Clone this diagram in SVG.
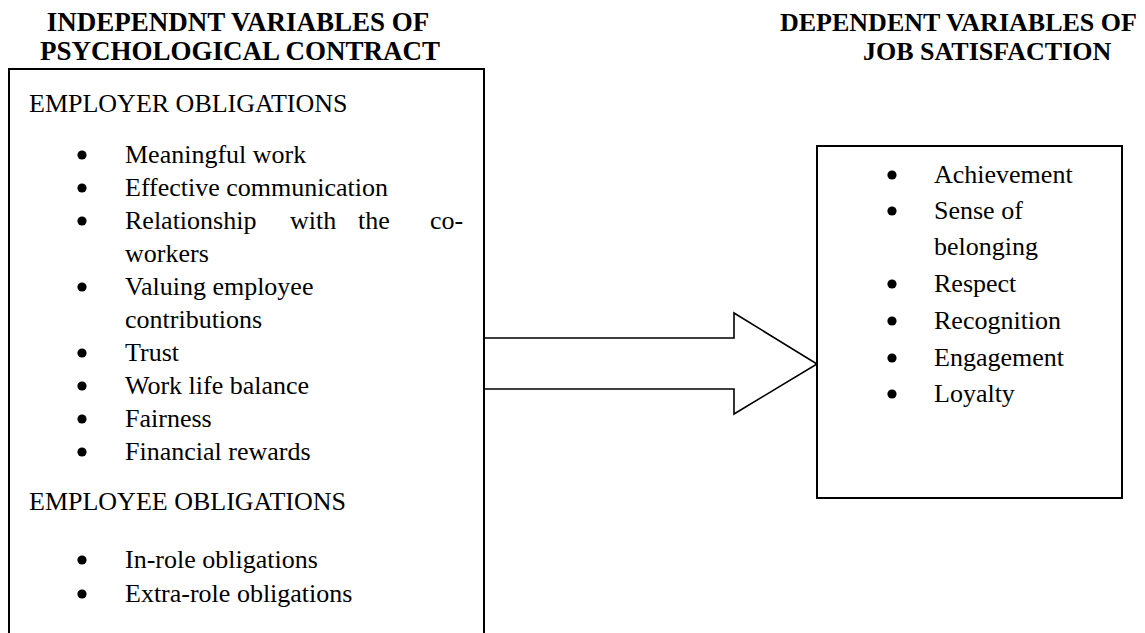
<svg xmlns="http://www.w3.org/2000/svg" width="1145" height="633" viewBox="0 0 1145 633">
<style>
  text { font-family: "Liberation Serif", "Times New Roman", serif; fill: #000; }
  .title { font-size: 27px; font-weight: bold; }
  .title-r { font-size: 26px; font-weight: bold; }
  .body { font-size: 26px; }
  .bul { fill: #000; }
  .box { fill: #fff; stroke: #000; stroke-width: 2; }
  .arrow { fill: #fff; stroke: #000; stroke-width: 1.6; stroke-linejoin: miter; }
</style>
<rect x="0" y="0" width="1145" height="633" fill="#fff"/>

<g id="title-left">
  <text class="title" x="238" y="31" text-anchor="middle">INDEPENDNT VARIABLES OF</text>
  <text class="title" x="240" y="60" text-anchor="middle">PSYCHOLOGICAL CONTRACT</text>
</g>
<g id="title-right">
  <text class="title-r" x="780" y="31">DEPENDENT VARIABLES OF</text>
  <text class="title-r" x="863" y="60">JOB SATISFACTION</text>
</g>

<g id="connectors">
  <polygon class="arrow" points="484,338 734,338 734,313 817,364 734,414 734,389 484,389"/>
</g>

<g id="node-psychological-contract">
  <rect class="box" x="9" y="69" width="475" height="580"/>
  <text class="body" x="29" y="112">EMPLOYER OBLIGATIONS</text>
  <circle class="bul" cx="82" cy="155" r="4.6"/><text class="body" x="125" y="163">Meaningful work</text>
  <circle class="bul" cx="82" cy="188" r="4.6"/><text class="body" x="125" y="196">Effective communication</text>
  <circle class="bul" cx="82" cy="221" r="4.6"/><text class="body" y="229"><tspan x="125">Relationship</tspan><tspan x="290">with</tspan><tspan x="358">the</tspan><tspan x="430">co-</tspan></text>
  <text class="body" x="125" y="262">workers</text>
  <circle class="bul" cx="82" cy="287" r="4.6"/><text class="body" x="125" y="295">Valuing employee</text>
  <text class="body" x="125" y="328">contributions</text>
  <circle class="bul" cx="82" cy="353" r="4.6"/><text class="body" x="125" y="361">Trust</text>
  <circle class="bul" cx="82" cy="386" r="4.6"/><text class="body" x="125" y="394">Work life balance</text>
  <circle class="bul" cx="82" cy="419" r="4.6"/><text class="body" x="125" y="427">Fairness</text>
  <circle class="bul" cx="82" cy="452" r="4.6"/><text class="body" x="125" y="460">Financial rewards</text>
  <text class="body" x="29" y="510">EMPLOYEE OBLIGATIONS</text>
  <circle class="bul" cx="82" cy="560" r="4.6"/><text class="body" x="125" y="568">In-role obligations</text>
  <circle class="bul" cx="82" cy="594" r="4.6"/><text class="body" x="125" y="602">Extra-role obligations</text>
</g>

<g id="node-job-satisfaction">
  <rect class="box" x="817" y="146" width="305" height="352"/>
  <circle class="bul" cx="892" cy="175" r="4.6"/><text class="body" x="934" y="183">Achievement</text>
  <circle class="bul" cx="892" cy="211" r="4.6"/><text class="body" x="934" y="219">Sense of</text>
  <text class="body" x="934" y="255">belonging</text>
  <circle class="bul" cx="892" cy="284" r="4.6"/><text class="body" x="934" y="292">Respect</text>
  <circle class="bul" cx="892" cy="321" r="4.6"/><text class="body" x="934" y="329">Recognition</text>
  <circle class="bul" cx="892" cy="358" r="4.6"/><text class="body" x="934" y="366">Engagement</text>
  <circle class="bul" cx="892" cy="394" r="4.6"/><text class="body" x="934" y="402">Loyalty</text>
</g>
</svg>
